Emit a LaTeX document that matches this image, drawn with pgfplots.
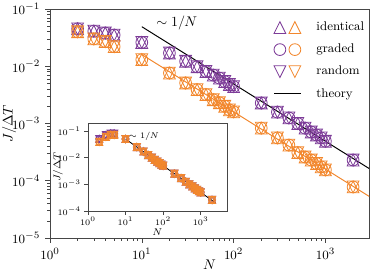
\documentclass[border=0pt]{standalone}
\usepackage{pgfplots}
\usepackage{pgfplotstable}
\pgfplotsset{compat=1.18}
\definecolor{purp}{RGB}{125,60,152}
\definecolor{orng}{RGB}{242,135,45}
\definecolor{axgray}{RGB}{70,70,70}
\pgfdeclareplotmark{tup}{%
  \pgfpathmoveto{\pgfqpoint{0pt}{\pgfplotmarksize}}%
  \pgfpathlineto{\pgfqpoint{-\pgfplotmarksize}{-\pgfplotmarksize}}%
  \pgfpathlineto{\pgfqpoint{\pgfplotmarksize}{-\pgfplotmarksize}}%
  \pgfpathclose\pgfusepathqstroke}
\pgfdeclareplotmark{tdown}{%
  \pgfpathmoveto{\pgfqpoint{0pt}{-\pgfplotmarksize}}%
  \pgfpathlineto{\pgfqpoint{-\pgfplotmarksize}{\pgfplotmarksize}}%
  \pgfpathlineto{\pgfqpoint{\pgfplotmarksize}{\pgfplotmarksize}}%
  \pgfpathclose\pgfusepathqstroke}

\pgfplotstableread{
N J
2 0.045
3 0.041
4 0.038
5 0.035
10 0.026
20 0.017
30 0.0122
40 0.0098
50 0.0081
60 0.0070
70 0.0062
80 0.0054
90 0.0048
100 0.0044
200 0.00228
300 0.00158
400 0.00125
500 0.00100
600 0.00083
700 0.00071
800 0.00063
900 0.00056
1000 0.00049
2000 0.00023
}\purpdata
\pgfplotstableread{
N J
2 0.040
3 0.030
4 0.027
5 0.022
10 0.013
20 0.0076
30 0.0051
40 0.0039
50 0.0032
60 0.0026
70 0.0023
80 0.0020
90 0.00173
100 0.0016
200 0.00083
300 0.00056
400 0.00042
500 0.00031
600 0.00026
700 0.00023
800 0.00020
900 0.000175
1000 0.000155
2000 0.000078
}\orngdata
\pgfplotstableread{
N J
2 0.050
3 0.070
4 0.080
5 0.080
10 0.050
20 0.025
30 0.017
40 0.0125
50 0.010
60 0.0083
70 0.0071
80 0.0062
90 0.0055
100 0.0050
200 0.0025
300 0.0017
400 0.00125
500 0.0010
600 0.00083
700 0.00071
800 0.00062
900 0.00055
1000 0.00050
2000 0.00026
}\insetpurp
\pgfplotstableread{
N J
2 0.039
3 0.060
4 0.071
5 0.071
10 0.050
20 0.025
30 0.017
40 0.0125
50 0.010
60 0.0083
70 0.0071
80 0.0062
90 0.0055
100 0.0050
200 0.0025
300 0.0017
400 0.00125
500 0.0010
600 0.00083
700 0.00071
800 0.00062
900 0.00055
1000 0.00050
2000 0.00026
}\insetorng

\begin{document}
\begin{tikzpicture}
\pgfplotsset{
  mk/.style={only marks, line width=0.6pt, mark size=4.2pt},
  mki/.style={only marks, line width=0.7pt, mark size=2.5pt},
}
\begin{axis}[
  name=main, at={(0,0)}, anchor=south west,
  scale only axis, width=228pt, height=163.6pt,
  xmode=log, ymode=log,
  xmin=1, xmax=3000, ymin=1e-5, ymax=1e-1,
  xtick={1,10,100,1000}, ytick={1e-5,1e-4,1e-3,1e-2,1e-1},
  tick align=outside, xtick pos=bottom, ytick pos=left,
  major tick length=3.5pt, minor tick length=2pt,
  axis line style={axgray}, every tick/.style={axgray},
  tick label style={font=\fontsize{9.5}{11}\selectfont},
  xlabel={$N$}, ylabel={$J/\Delta T$},
  xlabel style={at={(rel axis cs:0.5,-0.118)}, anchor=center},
  ylabel style={at={(rel axis cs:-0.128,0.5)}, anchor=center},
  legend style={draw=none, fill=none, at={(rel axis cs:0.70,0.956)}, anchor=north west,
    font=\fontsize{9}{10}\selectfont, row sep=4pt, inner sep=0pt,
    /tikz/every odd column/.append style={column sep=9pt}},
  legend cell align=left,
]
\addplot[mk, purp, mark=tup, forget plot] table {\purpdata};
\addplot[mk, purp, mark=o, forget plot] table {\purpdata};
\addplot[mk, purp, mark=tdown, forget plot] table {\purpdata};
\addplot[mk, orng, mark=tup, forget plot] table {\orngdata};
\addplot[mk, orng, mark=o, forget plot] table {\orngdata};
\addplot[mk, orng, mark=tdown, forget plot] table {\orngdata};
\addplot[black, line width=0.7pt, forget plot] coordinates {(10,0.049) (3000,1.633e-4)};
\addplot[orng, line width=0.7pt, forget plot] coordinates {(10,0.016) (3000,5.33e-5)};
\node at (axis cs:24,0.057) {$\sim 1/N$};
\addlegendimage{legend image code/.code={
  \draw[purp, line width=0.6pt] plot[only marks, mark=tup, mark size=4.2pt] coordinates {(4.2pt,0pt)};
  \draw[orng, line width=0.6pt] plot[only marks, mark=tup, mark size=4.2pt] coordinates {(14.9pt,0pt)};}}
\addlegendentry{identical}
\addlegendimage{legend image code/.code={
  \draw[purp, line width=0.6pt] plot[only marks, mark=o, mark size=4.2pt] coordinates {(4.2pt,0pt)};
  \draw[orng, line width=0.6pt] plot[only marks, mark=o, mark size=4.2pt] coordinates {(14.9pt,0pt)};}}
\addlegendentry{graded}
\addlegendimage{legend image code/.code={
  \draw[purp, line width=0.6pt] plot[only marks, mark=tdown, mark size=4.2pt] coordinates {(4.2pt,0pt)};
  \draw[orng, line width=0.6pt] plot[only marks, mark=tdown, mark size=4.2pt] coordinates {(14.9pt,0pt)};}}
\addlegendentry{random}
\addlegendimage{legend image code/.code={
  \draw[axgray, line width=0.8pt] (0.7pt,0pt) -- (7.9pt,0pt);
  \draw[orng, line width=0.8pt] (11.4pt,0pt) -- (17.9pt,0pt);
  \path (0pt,0pt) -- (19.1pt,0pt);}}
\addlegendentry{theory}
\end{axis}

\begin{scope}[shift={(27.1pt,19.3pt)}]
\begin{axis}[
  name=inset,
  at={(0,0)}, anchor=south west,
  scale only axis, width=99.3pt, height=62.9pt,
  xmode=log, ymode=log,
  xmin=1, xmax=5000, ymin=1e-4, ymax=0.2,
  xtick={1,10,100,1000}, ytick={1e-4,1e-3,1e-2,1e-1},
  xminorticks=false, yminorticks=false,
  tick align=outside, xtick pos=bottom, ytick pos=left,
  major tick length=2.5pt,
  axis line style={axgray}, every tick/.style={axgray},
  axis background/.style={fill=white},
  tick label style={font=\fontsize{6.2}{7}\selectfont},
  xticklabel style={yshift=1.5pt},
  yticklabel style={xshift=1pt},
  label style={font=\fontsize{7.5}{8}\selectfont},
  xlabel={$N$}, ylabel={$J/\Delta T$},
  xlabel style={at={(rel axis cs:0.5,-0.24)}, anchor=center},
  ylabel style={at={(rel axis cs:-0.215,0.5)}, anchor=center},
]
\addplot[mki, purp, mark=tup] table {\insetpurp};
\addplot[mki, purp, mark=o] table {\insetpurp};
\addplot[mki, purp, mark=tdown] table {\insetpurp};
\addplot[mki, orng, mark=tup] table {\insetorng};
\addplot[mki, orng, mark=o] table {\insetorng};
\addplot[mki, orng, mark=tdown] table {\insetorng};
\addplot[black, line width=0.6pt] coordinates {(10,0.05) (2500,2e-4)};
\node[font=\fontsize{6}{7}\selectfont] at (axis cs:31,0.06) {$\sim 1/N$};
\end{axis}
\end{scope}
\pgfresetboundingbox
\path[use as bounding box] (-35.7pt,-27.1pt) rectangle (231.4pt,170pt);
\end{tikzpicture}
\end{document}
